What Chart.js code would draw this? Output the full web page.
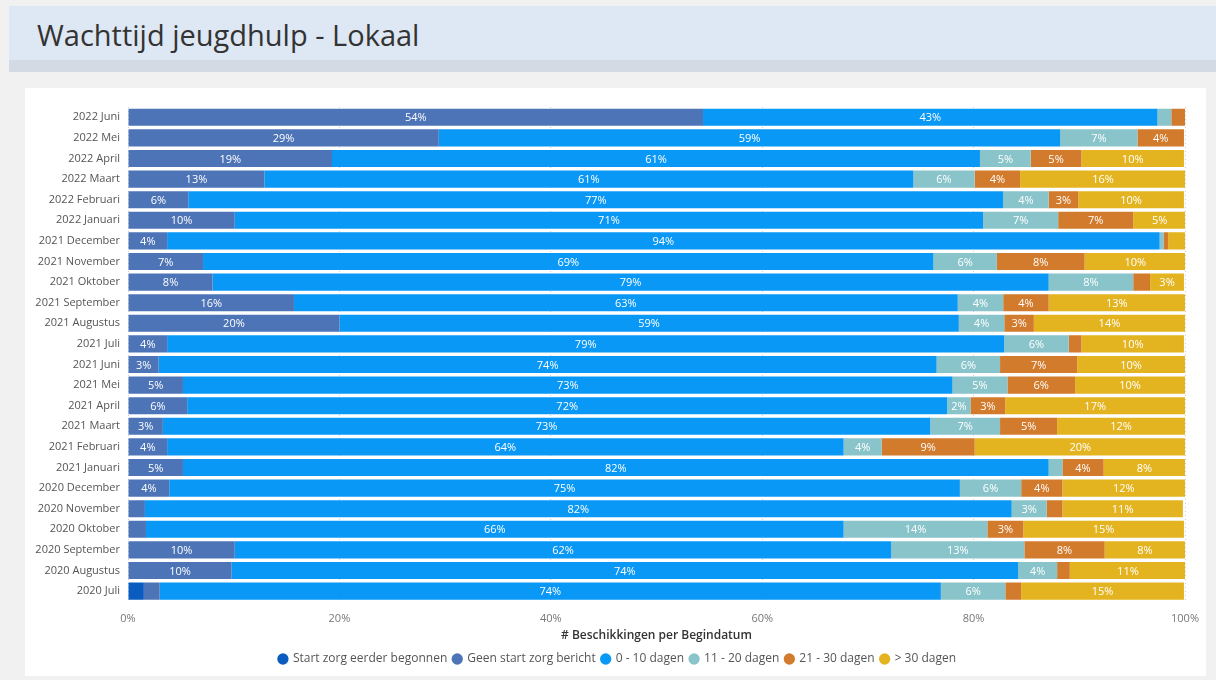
<!DOCTYPE html>
<html>
<head>
<meta charset="utf-8">
<title>Wachttijd jeugdhulp - Lokaal</title>
<script src="https://cdn.jsdelivr.net/npm/chart.js@4"></script>
<style>
  html, body {
    margin: 0;
    padding: 0;
    background: #f1f1f1;
    font-family: "Open Sans", "Noto Sans", sans-serif;
  }
  #page {
    position: relative;
    width: 1216px;
    height: 680px;
    overflow: hidden;
    background: #f1f1f1;
  }
  #header {
    position: absolute;
    left: 9px;
    top: 6px;
    width: 1207px;
    height: 54px;
    background: #dde8f4;
  }
  #headerShadow {
    position: absolute;
    left: 9px;
    top: 60px;
    width: 1207px;
    height: 12px;
    background: #d4dae3;
  }
  #title {
    position: absolute;
    left: 37px;
    top: 15px;
    font-size: 29px;
    color: #333;
    white-space: nowrap;
  }
  #card {
    position: absolute;
    left: 25px;
    top: 88px;
    width: 1181px;
    height: 588px;
    background: #fff;
  }
  #waitChart {
    position: absolute;
    left: 0;
    top: 0;
  }
</style>
</head>
<body>
<div id="page">
  <div id="header"></div>
  <div id="headerShadow"></div>
  <div id="title">Wachttijd jeugdhulp - Lokaal</div>
  <div id="card"><canvas id="waitChart" width="1185" height="588"></canvas></div>
</div>
<script>
const months = [
  "2022 Juni", "2022 Mei", "2022 April", "2022 Maart", "2022 Februari", "2022 Januari",
  "2021 December", "2021 November", "2021 Oktober", "2021 September", "2021 Augustus", "2021 Juli",
  "2021 Juni", "2021 Mei", "2021 April", "2021 Maart", "2021 Februari", "2021 Januari",
  "2020 December", "2020 November", "2020 Oktober", "2020 September", "2020 Augustus", "2020 Juli"
];

// percentages per maand, gelezen van boven naar beneden
const startEerder = [0, 0, 0, 0, 0, 0, 0, 0, 0, 0, 0, 0, 0, 0, 0, 0, 0, 0, 0, 0, 0, 0, 0, 1.5];
const geenBericht = [54.4, 29.4, 19.3, 12.9, 5.7, 10.1, 3.7, 7.1, 8.0, 15.7, 20.0, 3.7, 2.9, 5.2, 5.6, 3.3, 3.7, 5.2, 3.9, 1.6, 1.7, 10.1, 9.8, 1.5];
const dagen0_10 = [43.0, 58.8, 61.3, 61.4, 77.1, 70.8, 93.9, 69.1, 79.1, 62.8, 58.6, 79.2, 73.6, 72.8, 71.9, 72.6, 64.0, 81.9, 74.8, 82.0, 66.0, 62.1, 74.4, 73.9];
const dagen11_20 = [1.3, 7.3, 4.8, 5.8, 4.3, 7.1, 0.4, 6.0, 8.0, 4.3, 4.3, 6.1, 6.0, 5.2, 2.2, 6.6, 3.6, 1.3, 5.8, 3.3, 13.6, 12.6, 3.7, 6.1];
const dagen21_30 = [1.3, 4.4, 4.8, 4.3, 2.8, 7.1, 0.4, 8.3, 1.6, 4.3, 2.8, 1.2, 7.3, 6.4, 3.3, 5.4, 8.8, 3.9, 3.9, 1.5, 3.4, 7.6, 1.2, 1.5];
const dagenMeer30 = [0, 0, 9.7, 15.7, 10.0, 5.0, 1.7, 9.6, 3.2, 12.9, 14.3, 9.7, 10.2, 10.4, 17.0, 12.1, 20.0, 7.7, 11.6, 11.4, 15.2, 7.6, 11.0, 15.4];
const xTicks = [0, 20, 40, 60, 80, 100];

const seriesNames = ["Start zorg eerder begonnen", "Geen start zorg bericht", "0 - 10 dagen", "11 - 20 dagen", "21 - 30 dagen", "> 30 dagen"];
const seriesColors = ["#0b5cc0", "#4d74b6", "#0a98f6", "#8ac4cb", "#d27b2c", "#e4b420"];

const fontFamily = '"Open Sans", "Noto Sans", sans-serif';

// labels midden in de balkjes (geen datalabels plugin beschikbaar)
const barLabels = {
  id: "barLabels",
  afterDatasetsDraw(chart) {
    const ctx = chart.ctx;
    ctx.save();
    ctx.font = "11px " + fontFamily;
    ctx.fillStyle = "#ffffff";
    ctx.textAlign = "center";
    ctx.textBaseline = "middle";
    chart.data.datasets.forEach((ds, di) => {
      const meta = chart.getDatasetMeta(di);
      if (meta.hidden) return;
      meta.data.forEach((bar, i) => {
        const v = ds.data[i];
        if (!v || v < 2) return;
        const cx = (bar.x + bar.base) / 2;
        ctx.fillText(Math.round(v) + "%", cx, bar.y + 1);
      });
    });
    ctx.restore();
  },
};

function makeDataset(idx, values) {
  return {
    label: seriesNames[idx],
    data: values,
    backgroundColor: seriesColors[idx],
    borderWidth: 0,
    barPercentage: 1,
    categoryPercentage: 0.83,
  };
}

function initChart() {
  const ctx = document.getElementById("waitChart").getContext("2d");
  new Chart(ctx, {
    type: "bar",
    data: {
      labels: months,
      datasets: [
        makeDataset(0, startEerder),
        makeDataset(1, geenBericht),
        makeDataset(2, dagen0_10),
        makeDataset(3, dagen11_20),
        makeDataset(4, dagen21_30),
        makeDataset(5, dagenMeer30),
      ],
    },
    options: {
      indexAxis: "y",
      responsive: false,
      animation: false,
      layout: { padding: { top: 19, right: 0, bottom: 1, left: 0 } },
      scales: {
        x: {
          stacked: true,
          min: 0,
          max: 100,
          afterBuildTicks: (s) => {
            s.ticks = xTicks.map((v) => ({ value: v }));
          },
          border: { display: false, dash: [1, 3] },
          grid: {
            color: "#cfcfcf",
            lineWidth: 1,
            drawTicks: false,
          },
          ticks: {
            padding: 11,
            color: "#777",
            font: { size: 11, family: fontFamily },
            callback: (v) => v + "%",
          },
          title: {
            display: true,
            text: "# Beschikkingen per Begindatum",
            color: "#333",
            font: { size: 12, weight: "600", family: fontFamily },
            padding: { top: -8, bottom: 4 },
          },
        },
        y: {
          stacked: true,
          border: { display: false },
          grid: { display: false, drawTicks: false },
          afterFit: (s) => {
            s.width = 103;
          },
          ticks: {
            padding: 8,
            color: "#555",
            font: { size: 11, family: fontFamily },
          },
        },
      },
      plugins: {
        legend: {
          position: "bottom",
          labels: {
            usePointStyle: true,
            pointStyle: "circle",
            boxWidth: 8,
            boxHeight: 8,
            padding: 6,
            color: "#555",
            font: { size: 12, family: fontFamily },
          },
        },
        tooltip: { enabled: false },
      },
    },
    plugins: [barLabels],
  });
}

window.onload = function () {
  Chart.defaults.font.family = fontFamily;
  initChart();
};
</script>
</body>
</html>
